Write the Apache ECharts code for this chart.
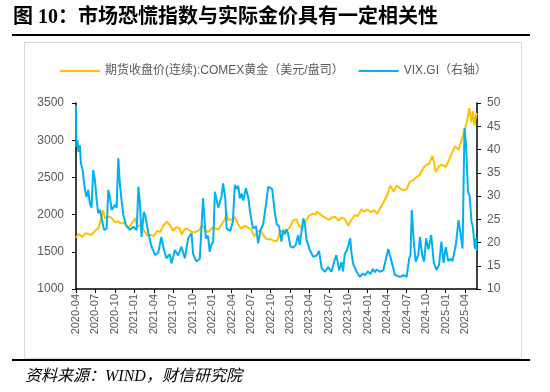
<!DOCTYPE html>
<html>
<head>
<meta charset="utf-8">
<script src="https://cdn.jsdelivr.net/npm/echarts@6/dist/echarts.min.js"></script>
<style>
html,body{margin:0;padding:0;background:#fff;}
#c{width:550px;height:392px;}
</style>
</head>
<body>
<div id="c"></div>
<script>
const titleText = '图 10：市场恐慌指数与实际金价具有一定相关性';
const sourceText = '资料来源：WIND，财信研究院';
const goldName = '期货收盘价(连续):COMEX黄金（美元/盘司）';
const vixName = 'VIX.GI（右轴）';
const axisStart = '2020-04-01';
const axisEnd = '2025-05-26';
const leftTicks = [1000, 1500, 2000, 2500, 3000, 3500];
const rightTicks = [10, 15, 20, 25, 30, 35, 40, 45, 50];

const goldDates = ['2020-04-01','2020-04-15','2020-05-01','2020-05-15','2020-06-01','2020-06-15','2020-07-01','2020-07-15','2020-08-01','2020-08-07','2020-08-15','2020-09-01','2020-09-15','2020-10-01','2020-10-15','2020-11-01','2020-11-15','2020-12-01','2020-12-15','2021-01-05','2021-01-15','2021-02-01','2021-02-15','2021-03-01','2021-03-15','2021-04-01','2021-04-15','2021-05-01','2021-05-15','2021-06-01','2021-06-15','2021-07-01','2021-07-15','2021-08-01','2021-08-10','2021-08-20','2021-09-01','2021-09-15','2021-10-01','2021-10-15','2021-11-01','2021-11-15','2021-12-01','2021-12-15','2022-01-01','2022-01-15','2022-02-01','2022-02-15','2022-03-01','2022-03-08','2022-03-15','2022-04-01','2022-04-15','2022-05-01','2022-05-15','2022-06-01','2022-06-15','2022-07-01','2022-07-15','2022-08-01','2022-08-15','2022-09-01','2022-09-15','2022-10-01','2022-10-15','2022-11-01','2022-11-15','2022-12-01','2022-12-15','2023-01-01','2023-01-15','2023-02-01','2023-02-15','2023-03-01','2023-03-15','2023-04-01','2023-04-15','2023-05-01','2023-05-05','2023-05-15','2023-06-01','2023-06-15','2023-07-01','2023-07-15','2023-08-01','2023-08-15','2023-09-01','2023-09-15','2023-10-01','2023-10-06','2023-10-15','2023-11-01','2023-11-15','2023-12-01','2023-12-15','2024-01-01','2024-01-15','2024-02-01','2024-02-15','2024-03-01','2024-03-15','2024-04-01','2024-04-15','2024-05-01','2024-05-15','2024-06-01','2024-06-15','2024-07-01','2024-07-15','2024-08-01','2024-08-15','2024-09-01','2024-09-15','2024-10-01','2024-10-15','2024-10-30','2024-11-08','2024-11-15','2024-12-01','2024-12-15','2025-01-01','2025-01-15','2025-02-01','2025-02-15','2025-03-01','2025-03-15','2025-04-01','2025-04-10','2025-04-21','2025-05-01','2025-05-08','2025-05-15','2025-05-20','2025-05-26'];
const goldValues = [1690,1740,1700,1750,1735,1730,1790,1815,1990,2060,1950,1975,1960,1900,1910,1880,1890,1820,1860,1950,1840,1860,1790,1720,1730,1710,1780,1770,1850,1905,1860,1780,1830,1815,1730,1785,1815,1790,1760,1770,1790,1865,1780,1770,1820,1815,1800,1870,1940,2040,1930,1930,1970,1870,1810,1850,1830,1800,1710,1770,1790,1710,1670,1670,1650,1640,1770,1790,1790,1830,1920,1940,1840,1830,1920,1990,2010,2000,2040,2020,1980,1960,1930,1960,1970,1920,1960,1940,1850,1835,1930,1990,1980,2070,2040,2070,2030,2060,2010,2100,2170,2260,2390,2310,2390,2350,2330,2340,2440,2460,2500,2530,2610,2670,2680,2790,2700,2570,2650,2670,2640,2720,2830,2920,2870,3000,3150,3250,3430,3240,3390,3200,3300,3365];

const vixDates = ['2020-04-01','2020-04-03','2020-04-08','2020-04-12','2020-04-19','2020-04-24','2020-05-02','2020-05-08','2020-05-13','2020-05-20','2020-05-28','2020-06-05','2020-06-13','2020-06-21','2020-06-29','2020-07-07','2020-07-14','2020-07-22','2020-07-30','2020-08-11','2020-08-23','2020-08-31','2020-09-08','2020-09-16','2020-09-24','2020-10-01','2020-10-09','2020-10-17','2020-10-24','2020-11-02','2020-11-10','2020-11-22','2020-12-10','2020-12-26','2021-01-12','2021-01-20','2021-01-27','2021-02-04','2021-02-15','2021-02-23','2021-03-06','2021-03-21','2021-04-07','2021-04-22','2021-05-06','2021-05-18','2021-05-30','2021-06-15','2021-06-23','2021-07-09','2021-07-24','2021-08-09','2021-08-25','2021-09-10','2021-09-26','2021-10-03','2021-10-19','2021-11-04','2021-11-19','2021-12-02','2021-12-12','2021-12-20','2021-12-28','2022-01-06','2022-01-14','2022-01-22','2022-01-30','2022-02-07','2022-02-15','2022-02-22','2022-03-02','2022-03-08','2022-03-25','2022-04-07','2022-04-16','2022-04-24','2022-05-02','2022-05-09','2022-05-18','2022-05-25','2022-06-07','2022-06-19','2022-06-27','2022-07-10','2022-07-24','2022-08-04','2022-08-14','2022-08-28','2022-09-10','2022-09-21','2022-09-28','2022-10-09','2022-10-21','2022-10-30','2022-11-11','2022-11-22','2022-11-30','2022-12-07','2022-12-16','2022-12-22','2023-01-04','2023-01-16','2023-01-28','2023-02-09','2023-02-16','2023-02-24','2023-03-03','2023-03-10','2023-03-18','2023-04-03','2023-04-19','2023-05-04','2023-05-16','2023-05-28','2023-06-13','2023-06-28','2023-07-13','2023-07-28','2023-08-06','2023-08-19','2023-08-30','2023-09-07','2023-09-15','2023-09-26','2023-10-10','2023-10-16','2023-10-25','2023-11-10','2023-11-25','2023-12-08','2023-12-19','2024-01-02','2024-01-13','2024-01-25','2024-02-04','2024-02-12','2024-02-28','2024-03-13','2024-04-06','2024-04-22','2024-05-07','2024-06-01','2024-06-16','2024-07-01','2024-07-13','2024-07-19','2024-07-25','2024-08-04','2024-08-13','2024-08-25','2024-09-03','2024-09-13','2024-09-22','2024-10-01','2024-10-12','2024-10-25','2024-11-07','2024-11-19','2024-12-01','2024-12-12','2024-12-22','2025-01-02','2025-01-14','2025-01-25','2025-02-03','2025-02-19','2025-03-01','2025-03-10','2025-03-20','2025-03-29','2025-04-06','2025-04-15','2025-04-23','2025-05-01','2025-05-07','2025-05-17','2025-05-22','2025-05-26'];
const vixValues = [49.5,40.6,42,39.5,40.9,37,35.6,33,31.3,29.8,31.3,28.4,27.5,35.6,33.4,29,26.3,27,25.2,22.7,23,31.3,29.8,27,27.5,28.1,27.5,38.1,32.7,29,25.9,23.8,22.7,23.4,22.7,32,28.5,21.2,26.6,25.5,22,19.1,17.3,17.8,21.2,18.5,16.6,17.5,15.5,18.4,17.2,19.1,16.6,20.9,22,17.5,15.9,16.5,29.5,20.9,21.5,18,19.5,20.2,30.9,30.5,27.5,27.4,30,32.7,29.5,23,22.5,24.5,32.4,31.5,32.2,29.5,30.5,29,31.7,29.5,26.6,23,23.5,19.8,22.5,24,28.1,32,32.4,31.5,26.6,24,23.4,20.2,22.6,21.8,22.8,22,19.1,18.9,19.5,21.6,19.5,19.1,25.2,24,20.5,18.4,16.9,17.2,18.2,14.5,13.7,14.7,13.7,16.2,17.3,14,15.8,13.8,17.6,18.4,20.9,17.7,15.2,13.7,12.6,13.3,13,13.8,13.2,14.3,13.6,14.2,13.7,14,18.6,15.8,13,12.6,13,12.6,16.6,17.3,27,20.2,15.9,17.3,21.2,17.3,15.9,20.9,18.5,21.6,15.6,14.1,15.2,20.2,15.6,19,16,16.5,16,19.5,24.8,22,18.7,44.6,41,30.9,30,24.5,23.5,18.7,20.9,18.2];

function toMonth(s) {
  const p = s.split('-').map(Number);
  return (p[0] - 2020) * 12 + (p[1] - 4) + (p[2] - 1) / 30.4;
}
function monthLabel(v) {
  const n = Math.round(v) + 3;
  const y = 2020 + Math.floor(n / 12);
  const m = (n % 12) + 1;
  return y + '-' + (m < 10 ? '0' + m : m);
}
const goldData = goldDates.map((d, i) => [toMonth(d), goldValues[i]]);
const vixData = vixDates.map((d, i) => [toMonth(d), vixValues[i]]);

const chart = echarts.init(document.getElementById('c'), null, {renderer: 'canvas', width: 550, height: 392});
const labelColor = '#595959';
const sansFont = "'Liberation Sans', 'Noto Sans CJK SC', sans-serif";
chart.setOption({
  backgroundColor: '#ffffff',
  animation: false,
  graphic: [
    {type: 'rect', left: 22, top: 40, shape: {width: 497, height: 316}, style: {fill: 'none', stroke: '#D9D9D9', lineWidth: 1}, silent: true},
    {type: 'line', shape: {x1: 12, y1: 35, x2: 530, y2: 35}, style: {stroke: '#000', lineWidth: 2}, silent: true},
    {type: 'line', shape: {x1: 12, y1: 360, x2: 530, y2: 360}, style: {stroke: '#000', lineWidth: 2}, silent: true},
    {type: 'text', x: 13, y: 18, style: {text: titleText, fill: '#000', font: "bold 20px 'Liberation Serif', 'Noto Sans CJK SC', serif", verticalAlign: 'middle'}, silent: true},
    {type: 'text', x: 25, y: 377, style: {text: sourceText, fill: '#000', font: "italic 16px 'Liberation Serif', 'Noto Sans CJK SC', serif", verticalAlign: 'middle'}, silent: true}
  ],
  legend: {
    top: 60,
    left: 55,
    icon: 'rect',
    itemWidth: 40,
    itemHeight: 2,
    itemGap: 15,
    textStyle: {color: labelColor, fontSize: 12, fontFamily: sansFont},
    data: [goldName, vixName]
  },
  grid: {left: 76, right: 73, top: 103, bottom: 103, containLabel: false},
  xAxis: {
    type: 'value',
    min: toMonth(axisStart),
    max: toMonth(axisEnd) + 0.03,
    interval: 3,
    splitLine: {show: false},
    axisLine: {show: true, onZero: false, lineStyle: {color: '#000', width: 1.5}},
    axisTick: {show: true, inside: false, length: 4, lineStyle: {color: '#000', width: 1}},
    axisLabel: {rotate: 90, margin: 5, color: labelColor, fontSize: 11, fontFamily: sansFont, showMaxLabel: false, formatter: monthLabel}
  },
  yAxis: [
    {
      type: 'value', position: 'left',
      min: leftTicks[0], max: leftTicks[leftTicks.length - 1], interval: leftTicks[1] - leftTicks[0],
      splitLine: {show: false},
      axisLine: {show: true, lineStyle: {color: '#000', width: 1.5}},
      axisTick: {show: true, inside: false, length: 4, lineStyle: {color: '#000'}},
      axisLabel: {margin: 12, color: labelColor, fontSize: 12, fontFamily: sansFont, formatter: v => String(v)}
    },
    {
      type: 'value', position: 'right',
      min: rightTicks[0], max: rightTicks[rightTicks.length - 1], interval: rightTicks[1] - rightTicks[0],
      splitLine: {show: false},
      axisLine: {show: true, lineStyle: {color: '#000', width: 1.5}},
      axisTick: {show: true, inside: false, length: 4, lineStyle: {color: '#000'}},
      axisLabel: {margin: 10, color: labelColor, fontSize: 12, fontFamily: sansFont, formatter: v => String(v)}
    }
  ],
  series: [
    {name: goldName, type: 'line', yAxisIndex: 0, data: goldData, symbol: 'none', showSymbol: false,
     lineStyle: {color: '#FFC000', width: 2}, itemStyle: {color: '#FFC000'}},
    {name: vixName, type: 'line', yAxisIndex: 1, data: vixData, symbol: 'none', showSymbol: false,
     lineStyle: {color: '#00B0F0', width: 2}, itemStyle: {color: '#00B0F0'}}
  ]
});
</script>
</body>
</html>
